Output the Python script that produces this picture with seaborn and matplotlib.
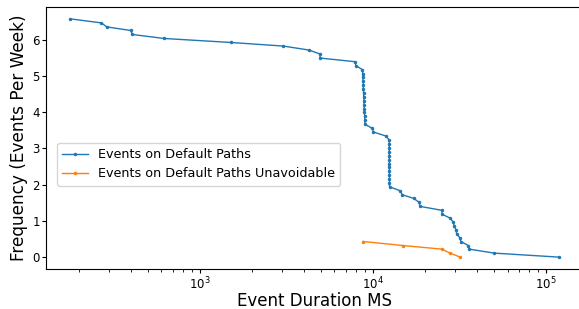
import matplotlib
matplotlib.use("Agg")
import matplotlib.pyplot as plt
import seaborn as sns

# ---------------- DATA ----------------
default_ms = [
    179, 270, 290, 399, 408, 622, 1511, 3046, 4283, 4955, 4955, 7870, 7980, 8710,
    8740, 8760, 8780, 8800, 8820, 8840, 8860, 8880, 8900, 8920, 8940, 8960, 8980, 9000,
    9950, 10070, 11890, 12420,
    12425, 12430, 12435, 12440, 12445, 12450, 12455, 12460, 12465, 12470, 12475, 12480,
    14390, 14780, 17190, 18530, 18700, 25050, 25140, 27860, 29120, 29500, 30200,
    30470, 31720, 32260, 35570, 36050, 50200, 118400,
]
default_freq = [
    6.57, 6.46, 6.35, 6.25, 6.14, 6.03, 5.92, 5.82, 5.71, 5.60, 5.49, 5.39, 5.28, 5.17,
    5.06, 4.96, 4.85, 4.74, 4.63, 4.52, 4.42, 4.31, 4.20, 4.09, 3.99, 3.88, 3.77, 3.66,
    3.55, 3.45, 3.34, 3.23,
    3.12, 3.02, 2.91, 2.80, 2.69, 2.58, 2.48, 2.37, 2.26, 2.15, 2.05, 1.94,
    1.83, 1.72, 1.62, 1.51, 1.40, 1.29, 1.18, 1.08, 0.97, 0.86, 0.75,
    0.65, 0.54, 0.43, 0.32, 0.22, 0.11, 0.00,
]
unavoid_ms = [8790, 14860, 25050, 27870, 31990]
unavoid_freq = [0.43, 0.32, 0.22, 0.11, 0.00]

labels = ["Events on Default Paths", "Events on Default Paths Unavoidable"]

# ---------------- PLOT ----------------
fig = plt.figure(figsize=(5.79, 3.09), dpi=100)
# right spine falls just outside the picture, as in the original crop
ax = fig.add_axes([0.0795, 0.1294, 0.9275, 0.848])

sns.lineplot(x=default_ms, y=default_freq, sort=False, estimator=None,
             marker=".", markersize=5, markeredgewidth=0, linewidth=1,
             color="#1f77b4", label=labels[0], ax=ax)
sns.lineplot(x=unavoid_ms, y=unavoid_freq, sort=False, estimator=None,
             marker=".", markersize=5, markeredgewidth=0, linewidth=1,
             color="#ff7f0e", label=labels[1], ax=ax)

ax.set_xscale("log")
ax.set_xlabel("Event Duration MS", fontsize=12, labelpad=0)
ax.set_ylabel("Frequency (Events Per Week)", fontsize=12.2, labelpad=3)
ax.tick_params(labelsize=8.5, length=3, pad=1.5)
ax.tick_params(which="minor", length=1.8)
ax.legend(loc="center left", bbox_to_anchor=(0.009, 0.40), fontsize=9.2)

fig.savefig("out.png", dpi=100)
